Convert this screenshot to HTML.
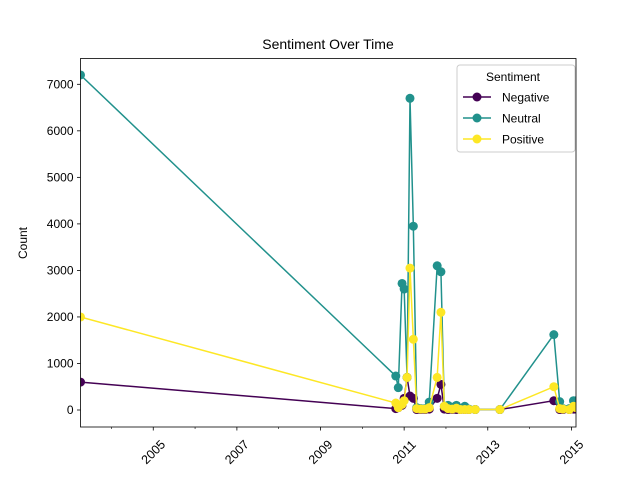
<!DOCTYPE html>
<html><head><meta charset="utf-8"><style>
body{margin:0;background:#fff;}
svg{font-family:"Liberation Sans","DejaVu Sans",sans-serif;}
</style></head><body>
<svg id="chart" width="640" height="480" viewBox="0 0 640 480">
<defs><clipPath id="pc"><rect x="80.5" y="58.5" width="495.5" height="368.5"/></clipPath></defs>
<rect width="640" height="480" fill="#fff"/>
<text x="328" y="49" font-size="14" text-anchor="middle">Sentiment Over Time</text>
<g id="plot"></g>
<text transform="translate(27,243) rotate(-90)" font-size="12" text-anchor="middle">Count</text>
<text x="328" y="490" font-size="12" text-anchor="middle">Date</text>
</svg>
<script>
const dates=[2003.26,2010.8,2010.86,2010.95,2011.0,2011.07,2011.14,2011.22,2011.3,2011.4,2011.5,2011.6,2011.79,2011.88,2011.96,2012.05,2012.15,2012.25,2012.35,2012.45,2012.55,2012.7,2013.29,2014.58,2014.72,2014.8,2014.95,2015.05,2015.11];
const neutral=[7200,730,480,2720,2600,700,6700,3950,50,30,30,170,3100,2970,80,100,60,100,30,80,20,10,10,1620,180,30,30,200,200];
const positive=[2000,150,50,120,200,700,3050,1520,30,20,20,50,700,2100,80,30,20,40,10,10,10,10,10,500,30,20,10,80,50];
const negative=[600,30,50,100,250,700,300,250,10,10,10,20,250,550,20,10,10,10,10,10,10,10,10,200,10,10,10,20,20];
const yTicks=[0,1000,2000,3000,4000,5000,6000,7000];
const xTickYears=[2005,2007,2009,2011,2013,2015];
const xMinorYears=[2004,2006,2008,2010,2012,2014];
const NS="http://www.w3.org/2000/svg";
const L=80.5,R=576,T=58.5,B=427;
const x0=2003.26,x1=2015.11;
function xs(v){return L+(v-x0)/(x1-x0)*(R-L);}
function ys(v){return 410-v*(410-84.3)/7000;}
const g=document.getElementById('plot');
function mk(tag,attrs,parent){const e=document.createElementNS(NS,tag);for(const k in attrs)e.setAttribute(k,attrs[k]);(parent||g).appendChild(e);return e;}
yTicks.forEach(t=>{const y=ys(t);
 const tk=mk('line',{x1:L-3.5,x2:L,y1:y,y2:y,stroke:'#000','stroke-width':0.8});
 
 
 const tx=mk('text',{x:L-7,y:y+4,'font-size':12,'text-anchor':'end'});tx.textContent=t;
 
 
});
xTickYears.forEach(t=>{const x=xs(t);
 const tk=mk('line',{x1:x,x2:x,y1:B,y2:B+3.5,stroke:'#000','stroke-width':0.8});
 
 
 const tx=mk('text',{transform:`translate(${x+3},${B+28}) rotate(-45)`,'font-size':12.5,'text-anchor':'middle'});tx.textContent=t;
 
 
});
xMinorYears.forEach(t=>{const x=xs(t);
 const tk=mk('line',{x1:x,x2:x,y1:B,y2:B+2,stroke:'#000','stroke-width':0.6});
 
 
});
const clipG=mk('g',{'clip-path':'url(#pc)'});
const series=[['negative',negative,'#440154'],['neutral',neutral,'#21918c'],['positive',positive,'#fde725']];
series.forEach(([n,vals,c])=>{
 const sg=mk('g',{},clipG);
 
 
 const pts=vals.map((v,i)=>xs(dates[i])+','+ys(v)).join(' ');
 const pl=mk('polyline',{points:pts,fill:'none',stroke:c,'stroke-width':1.5},sg);
 
 
 vals.forEach((v,i)=>{const p=mk('circle',{cx:xs(dates[i]),cy:ys(v),r:4.5,fill:c},sg);
  
  });
});
const fr=mk('rect',{x:L,y:T,width:R-L,height:B-T,fill:'none',stroke:'#000','stroke-width':0.8});


const lg=mk('g',{});


mk('rect',{x:457,y:65,width:118,height:87,rx:3,fill:'#fff','fill-opacity':0.8,stroke:'#ccc'},lg);
const lt=mk('text',{x:513,y:81,'font-size':12,'text-anchor':'middle'},lg);lt.textContent='Sentiment';


[['Negative','#440154'],['Neutral','#21918c'],['Positive','#fde725']].forEach(([n,c],i)=>{
 const y=97+i*21;
 const e=mk('g',{},lg);
 
 
 mk('line',{x1:463,x2:491,y1:y,y2:y,stroke:c,'stroke-width':1.5},e);
 mk('circle',{cx:477,cy:y,r:4.5,fill:c},e);
 const t=mk('text',{x:502,y:y+4.5,'font-size':12},e);t.textContent=n;
});
</script>
</body></html>
